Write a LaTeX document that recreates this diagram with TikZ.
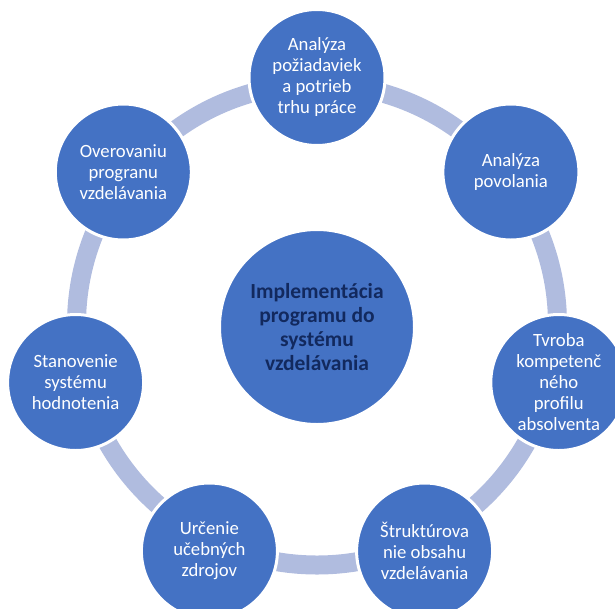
\documentclass[tikz,border=0pt]{standalone}
\usepackage{fontspec}
\setmainfont{Carlito}
\usetikzlibrary{backgrounds}
\definecolor{nodeblue}{HTML}{4472C4}
\definecolor{ringblue}{HTML}{B0BCDF}
\definecolor{navytext}{HTML}{12295E}
\tikzset{
  stage/.style={circle, fill=nodeblue, draw=white, line width=3pt, minimum size=136pt,
    inner sep=0pt, outer sep=0pt, align=center, text=white,
    font=\fontsize{18.7}{21}\selectfont},
  hub/.style={circle, fill=nodeblue, draw=white, line width=3pt, minimum size=195pt,
    inner sep=0pt, outer sep=0pt, align=center, text=navytext,
    font=\bfseries\fontsize{21.5}{24}\selectfont},
  ringband/.style={circle, draw=ringblue, line width=19pt, minimum size=481pt,
    inner sep=0pt, outer sep=0pt}
}
\begin{document}
\begin{tikzpicture}[x=1pt, y=-1pt]
\useasboundingbox (0,0) rectangle (615,608);
\node[ringband] (ring) at (317,324.5) {};
\node[hub] (c) at (317,327) {Implementácia\\programu do\\systému\\vzdelávania};
\node[stage] (n0) at (317,77.5) {Analýza\\požiadaviek\\a potrieb\\trhu práce};
\node[stage] (n1) at (510.9,172) {Analýza\\povolania};
\node[stage] (n2) at (558.8,382.5) {Tvroba\\kompetenč\\ného\\profilu\\absolventa};
\node[stage] (n3) at (424.6,551) {Štruktúrova\\nie obsahu\\vzdelávania};
\node[stage] (n4) at (209.4,551) {Určenie\\učebných\\zdrojov};
\node[stage] (n5) at (75.6,382.5) {Stanovenie\\systému\\hodnotenia};
\node[stage] (n6) at (123.3,172) {Overovaniu\\progranu\\vzdelávania};
\end{tikzpicture}
\end{document}
